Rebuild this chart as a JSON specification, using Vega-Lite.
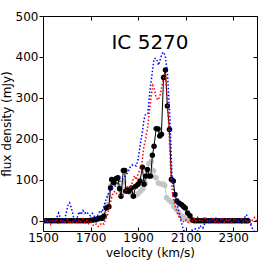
{
  "$schema": "https://vega.github.io/schema/vega-lite/v6.json",
  "width": 214,
  "height": 215,
  "autosize": {"type": "none"},
  "padding": {"left": 43, "top": 16, "right": 16, "bottom": 42},
  "background": "white",
  "title": {"text": "IC 5270", "fontSize": 20, "font": "DejaVu Sans", "fontWeight": "normal", "color": "black", "anchor": "middle", "baseline": "alphabetic", "offset": -59},
  "config": {
    "font": "DejaVu Sans",
    "view": {"stroke": "black", "strokeWidth": 1},
    "axis": {"labelFont": "DejaVu Sans", "titleFont": "DejaVu Sans", "labelFontSize": 12, "titleFontSize": 12, "titleFontWeight": "normal", "labelColor": "black", "titleColor": "black", "tickColor": "black", "domain": false, "grid": false, "labelOverlap": false, "labelFlush": false, "format": "d"}
  },
  "datasets": {
    "black": [
      {"v":1500,"f":0},{"v":1510,"f":0},{"v":1520,"f":0},{"v":1530,"f":0},{"v":1540,"f":0},{"v":1550,"f":0},{"v":1560,"f":0},{"v":1570,"f":0},{"v":1580,"f":0},{"v":1590,"f":0},{"v":1600,"f":0},{"v":1610,"f":0},{"v":1620,"f":0},{"v":1630,"f":0},{"v":1640,"f":0},{"v":1650,"f":0},{"v":1660,"f":0},{"v":1670,"f":0},{"v":1680,"f":0},{"v":1690,"f":0},{"v":1700,"f":1},{"v":1710,"f":2},{"v":1721,"f":3},{"v":1730,"f":5},{"v":1742,"f":7},{"v":1750,"f":6},{"v":1756,"f":11},{"v":1766,"f":31},{"v":1777,"f":34},{"v":1784,"f":80},{"v":1789,"f":101},{"v":1798,"f":93},{"v":1808,"f":103},{"v":1815,"f":105},{"v":1822,"f":78},{"v":1828,"f":60},{"v":1838,"f":123},{"v":1844,"f":123},{"v":1848,"f":72},{"v":1855,"f":75},{"v":1862,"f":72},{"v":1872,"f":80},{"v":1880,"f":60},{"v":1890,"f":84},{"v":1900,"f":89},{"v":1908,"f":97},{"v":1918,"f":131},{"v":1925,"f":89},{"v":1932,"f":109},{"v":1939,"f":125},{"v":1946,"f":109},{"v":1953,"f":109},{"v":1960,"f":160},{"v":1967,"f":182},{"v":1976,"f":225},{"v":1984,"f":224},{"v":1991,"f":207},{"v":1998,"f":211},{"v":2007,"f":350},{"v":2015,"f":368},{"v":2023,"f":280},{"v":2032,"f":223},{"v":2040,"f":101},{"v":2048,"f":97},{"v":2055,"f":64},{"v":2063,"f":48},{"v":2073,"f":43},{"v":2083,"f":39},{"v":2091,"f":35},{"v":2098,"f":31},{"v":2108,"f":19},{"v":2118,"f":12},{"v":2129,"f":2},{"v":2136,"f":0},{"v":2146,"f":0},{"v":2156,"f":0},{"v":2166,"f":0},{"v":2176,"f":0},{"v":2186,"f":0},{"v":2196,"f":0},{"v":2206,"f":0},{"v":2216,"f":0},{"v":2226,"f":0},{"v":2236,"f":0},{"v":2246,"f":0},{"v":2256,"f":0},{"v":2266,"f":0},{"v":2276,"f":0},{"v":2286,"f":0},{"v":2296,"f":0},{"v":2306,"f":0},{"v":2316,"f":0},{"v":2326,"f":0},{"v":2336,"f":0},{"v":2346,"f":0},{"v":2354,"f":0},{"v":2362,"f":0}
    ],
    "gray": [
      {"v":1500,"f":0},{"v":1600,"f":0},{"v":1700,"f":0},{"v":1720,"f":0},{"v":1730,"f":2},{"v":1745,"f":5},{"v":1760,"f":15},{"v":1770,"f":40},{"v":1778,"f":60},{"v":1784,"f":85},{"v":1790,"f":100},{"v":1800,"f":95},{"v":1810,"f":100},{"v":1820,"f":85},{"v":1830,"f":70},{"v":1840,"f":95},{"v":1850,"f":78},{"v":1860,"f":70},{"v":1870,"f":68},{"v":1880,"f":64},{"v":1890,"f":62},{"v":1900,"f":66},{"v":1910,"f":72},{"v":1920,"f":78},{"v":1930,"f":92},{"v":1938,"f":115},{"v":1945,"f":140},{"v":1955,"f":145},{"v":1965,"f":122},{"v":1975,"f":105},{"v":1985,"f":92},{"v":1995,"f":90},{"v":2005,"f":90},{"v":2012,"f":86},{"v":2020,"f":56},{"v":2030,"f":50},{"v":2040,"f":45},{"v":2050,"f":35},{"v":2060,"f":28},{"v":2070,"f":20},{"v":2080,"f":13},{"v":2090,"f":8},{"v":2100,"f":4},{"v":2110,"f":2},{"v":2120,"f":0},{"v":2200,"f":0},{"v":2300,"f":0},{"v":2360,"f":0}
    ],
    "red": [
      {"v":1500,"f":-5},{"v":1508,"f":3},{"v":1516,"f":-3},{"v":1524,"f":2},{"v":1532,"f":-8},{"v":1540,"f":0},{"v":1548,"f":-4},{"v":1556,"f":4},{"v":1564,"f":-6},{"v":1572,"f":-2},{"v":1580,"f":3},{"v":1588,"f":-5},{"v":1596,"f":-1},{"v":1604,"f":4},{"v":1612,"f":-7},{"v":1620,"f":0},{"v":1628,"f":-3},{"v":1636,"f":3},{"v":1644,"f":-6},{"v":1652,"f":2},{"v":1660,"f":-2},{"v":1668,"f":5},{"v":1676,"f":-4},{"v":1684,"f":1},{"v":1692,"f":-7},{"v":1700,"f":-3},{"v":1708,"f":-10},{"v":1716,"f":-12},{"v":1724,"f":-8},{"v":1732,"f":-14},{"v":1740,"f":-10},{"v":1748,"f":-5},{"v":1756,"f":-8},{"v":1764,"f":5},{"v":1772,"f":15},{"v":1780,"f":35},{"v":1788,"f":55},{"v":1796,"f":70},{"v":1804,"f":72},{"v":1812,"f":65},{"v":1820,"f":62},{"v":1828,"f":60},{"v":1836,"f":62},{"v":1844,"f":65},{"v":1852,"f":80},{"v":1860,"f":85},{"v":1868,"f":78},{"v":1876,"f":95},{"v":1884,"f":110},{"v":1892,"f":100},{"v":1900,"f":115},{"v":1908,"f":125},{"v":1916,"f":140},{"v":1924,"f":180},{"v":1932,"f":200},{"v":1940,"f":228},{"v":1948,"f":270},{"v":1956,"f":308},{"v":1962,"f":330},{"v":1968,"f":322},{"v":1976,"f":300},{"v":1984,"f":295},{"v":1992,"f":305},{"v":2000,"f":330},{"v":2008,"f":352},{"v":2014,"f":362},{"v":2022,"f":300},{"v":2030,"f":220},{"v":2038,"f":110},{"v":2046,"f":60},{"v":2054,"f":40},{"v":2062,"f":25},{"v":2070,"f":12},{"v":2078,"f":5},{"v":2086,"f":0},{"v":2094,"f":-3},{"v":2102,"f":2},{"v":2110,"f":-4},{"v":2118,"f":3},{"v":2126,"f":-2},{"v":2134,"f":6},{"v":2142,"f":-1},{"v":2150,"f":8},{"v":2158,"f":2},{"v":2166,"f":-3},{"v":2174,"f":5},{"v":2182,"f":10},{"v":2190,"f":0},{"v":2198,"f":-4},{"v":2206,"f":3},{"v":2214,"f":9},{"v":2222,"f":-2},{"v":2230,"f":4},{"v":2238,"f":-5},{"v":2246,"f":2},{"v":2254,"f":7},{"v":2262,"f":-3},{"v":2270,"f":3},{"v":2278,"f":-2},{"v":2286,"f":6},{"v":2294,"f":-4},{"v":2302,"f":2},{"v":2310,"f":5},{"v":2318,"f":-3},{"v":2326,"f":1},{"v":2334,"f":4},{"v":2342,"f":-2},{"v":2350,"f":3},{"v":2358,"f":-4},{"v":2366,"f":2},{"v":2374,"f":-8},{"v":2382,"f":4},{"v":2390,"f":8},{"v":2400,"f":-3}
    ],
    "blue": [
      {"v":1500,"f":2},{"v":1510,"f":-3},{"v":1520,"f":0},{"v":1530,"f":-5},{"v":1540,"f":3},{"v":1550,"f":-2},{"v":1558,"f":8},{"v":1566,"f":19},{"v":1574,"f":5},{"v":1582,"f":-3},{"v":1590,"f":2},{"v":1598,"f":20},{"v":1606,"f":40},{"v":1612,"f":44},{"v":1620,"f":30},{"v":1628,"f":10},{"v":1636,"f":-2},{"v":1644,"f":8},{"v":1652,"f":22},{"v":1660,"f":15},{"v":1668,"f":25},{"v":1676,"f":18},{"v":1684,"f":22},{"v":1692,"f":15},{"v":1700,"f":12},{"v":1708,"f":18},{"v":1716,"f":10},{"v":1724,"f":5},{"v":1732,"f":15},{"v":1740,"f":25},{"v":1748,"f":20},{"v":1756,"f":35},{"v":1764,"f":50},{"v":1772,"f":62},{"v":1780,"f":72},{"v":1790,"f":80},{"v":1800,"f":82},{"v":1810,"f":90},{"v":1820,"f":95},{"v":1830,"f":100},{"v":1840,"f":105},{"v":1850,"f":112},{"v":1860,"f":122},{"v":1870,"f":135},{"v":1880,"f":137},{"v":1892,"f":134},{"v":1900,"f":150},{"v":1910,"f":190},{"v":1918,"f":216},{"v":1925,"f":248},{"v":1932,"f":261},{"v":1941,"f":262},{"v":1949,"f":314},{"v":1958,"f":355},{"v":1967,"f":396},{"v":1977,"f":396},{"v":1986,"f":380},{"v":1996,"f":400},{"v":2005,"f":412},{"v":2014,"f":404},{"v":2024,"f":355},{"v":2034,"f":248},{"v":2042,"f":117},{"v":2052,"f":68},{"v":2066,"f":35},{"v":2080,"f":2},{"v":2090,"f":-22},{"v":2100,"f":-30},{"v":2110,"f":-30},{"v":2120,"f":-28},{"v":2129,"f":-22},{"v":2140,"f":-20},{"v":2150,"f":-26},{"v":2160,"f":-12},{"v":2172,"f":-18},{"v":2186,"f":2},{"v":2195,"f":-3},{"v":2205,"f":5},{"v":2215,"f":-2},{"v":2225,"f":8},{"v":2235,"f":0},{"v":2245,"f":-4},{"v":2255,"f":3},{"v":2265,"f":-2},{"v":2275,"f":5},{"v":2285,"f":-6},{"v":2295,"f":2},{"v":2305,"f":-3},{"v":2315,"f":4},{"v":2325,"f":0},{"v":2335,"f":-5},{"v":2345,"f":5},{"v":2355,"f":15},{"v":2362,"f":8},{"v":2370,"f":-5},{"v":2378,"f":-15},{"v":2386,"f":-25},{"v":2392,"f":-30},{"v":2400,"f":-22}
    ]
  },
  "encoding": {
    "x": {"field": "v", "type": "quantitative", "scale": {"domain": [1500, 2400], "nice": false, "zero": false}},
    "y": {"field": "f", "type": "quantitative", "scale": {"domain": [-25, 500], "nice": false, "zero": false}}
  },
  "resolve": {"axis": {"x": "independent", "y": "independent"}},
  "layer": [
    {
      "data": {"name": "gray"},
      "encoding": {
        "x": {"field": "v", "type": "quantitative", "axis": {"title": "velocity (km/s)", "values": [1500, 1700, 1900, 2100, 2300], "tickSize": -4, "labelPadding": 5, "titlePadding": 4, "orient": "bottom"}},
        "y": {"field": "f", "type": "quantitative", "axis": {"title": "flux density (mJy)", "values": [0, 100, 200, 300, 400, 500], "tickSize": 4, "labelPadding": 1, "titlePadding": 2, "orient": "left"}}
      },
      "layer": [
        {"mark": {"type": "line", "color": "#c4c4c4", "strokeWidth": 1, "clip": true}},
        {"mark": {"type": "point", "filled": true, "color": "#c4c4c4", "opacity": 1, "size": 30, "clip": true}}
      ]
    },
    {
      "data": {"name": "black"},
      "encoding": {
        "x": {"field": "v", "type": "quantitative", "axis": {"orient": "top", "labels": false, "title": null, "values": [1500, 1700, 1900, 2100, 2300], "tickSize": -4}},
        "y": {"field": "f", "type": "quantitative", "axis": {"orient": "right", "labels": false, "title": null, "values": [0, 100, 200, 300, 400, 500], "tickSize": -4}}
      },
      "layer": [
        {"mark": {"type": "line", "color": "black", "strokeWidth": 1, "clip": true}},
        {"mark": {"type": "point", "filled": true, "color": "black", "opacity": 1, "size": 30, "clip": true}}
      ]
    },
    {
      "data": {"name": "red"},
      "mark": {"type": "line", "color": "#ff0000", "strokeWidth": 1.5, "strokeDash": [1.5, 2], "clip": true},
      "encoding": {
        "x": {"field": "v", "type": "quantitative", "axis": null},
        "y": {"field": "f", "type": "quantitative", "axis": null}
      }
    },
    {
      "data": {"name": "blue"},
      "mark": {"type": "line", "color": "#0000ff", "strokeWidth": 1.5, "strokeDash": [1.5, 2], "clip": true},
      "encoding": {
        "x": {"field": "v", "type": "quantitative", "axis": null},
        "y": {"field": "f", "type": "quantitative", "axis": null}
      }
    }
  ]
}
